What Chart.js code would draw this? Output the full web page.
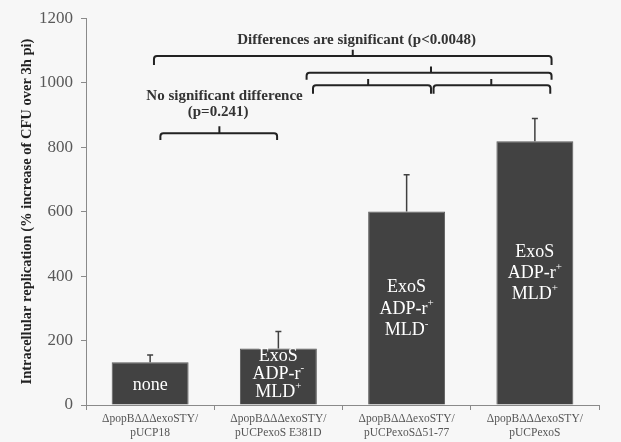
<!DOCTYPE html>
<html>
<head>
<meta charset="utf-8">
<script src="https://cdn.jsdelivr.net/npm/chart.js"></script>
<style>
  html, body { margin: 0; padding: 0; background: #f7f7f7; }
  #wrap { width: 621px; height: 442px; }
</style>
</head>
<body>
<div id="wrap"><canvas id="replChart" width="621" height="442"></canvas></div>
<script>
// DATA
const strains = [
    ["\u0394popB\u0394\u0394\u0394exoSTY/", "pUCP18"],
    ["\u0394popB\u0394\u0394\u0394exoSTY/", "pUCPexoS E381D"],
    ["\u0394popB\u0394\u0394\u0394exoSTY/", "pUCPexoS\u039451-77"],
    ["\u0394popB\u0394\u0394\u0394exoSTY/", "pUCPexoS"]
];
const replication = [133, 175, 600, 818];
const errorTop = [155, 228, 714, 889];
const yTicks = [0, 200, 400, 600, 800, 1000, 1200];
// bar captions: [text, superscript]
const barText = [
    [["none", ""]],
    [["ExoS", ""], ["ADP-r", "-"], ["MLD", "+"]],
    [["ExoS", ""], ["ADP-r", "+"], ["MLD", "-"]],
    [["ExoS", ""], ["ADP-r", "+"], ["MLD", "+"]]
];

const serif = "'Liberation Serif', 'Times New Roman', serif";

const overlay = {
    id: "overlay",
    afterDatasetsDraw(chart) {
        const ctx = chart.ctx;
        const xs = chart.scales.x, ys = chart.scales.y;
        const step = xs.getPixelForValue(1) - xs.getPixelForValue(0);
        const px = c => xs.getPixelForValue(0) + c * step;
        const py = v => ys.getPixelForValue(v);
        const meta = chart.getDatasetMeta(0);

        ctx.save();
        // error bars
        ctx.strokeStyle = "#404040";
        ctx.lineWidth = 1.5;
        meta.data.forEach((bar, i) => {
            const x = bar.x;
            ctx.beginPath();
            ctx.moveTo(x, py(replication[i]));
            ctx.lineTo(x, py(errorTop[i]));
            ctx.moveTo(x - 3, py(errorTop[i]));
            ctx.lineTo(x + 3, py(errorTop[i]));
            ctx.stroke();
        });

        // captions inside bars
        const capY = [[385], [356, 374, 392], [287, 309, 330], [252, 273, 294]];
        ctx.fillStyle = "#ffffff";
        ctx.textBaseline = "middle";
        meta.data.forEach((bar, i) => {
            barText[i].forEach((ln, j) => {
                ctx.font = "18px " + serif;
                const w = ctx.measureText(ln[0]).width;
                ctx.font = "11px " + serif;
                const sw = ln[1] ? ctx.measureText(ln[1]).width : 0;
                const x0 = bar.x - (w + sw) / 2;
                ctx.font = "18px " + serif;
                ctx.textAlign = "left";
                ctx.fillText(ln[0], x0, capY[i][j]);
                if (ln[1]) {
                    ctx.font = "11px " + serif;
                    ctx.fillText(ln[1], x0 + w, capY[i][j] - 6);
                }
            });
        });

        // brackets
        function bracket(c1, c2, y, drop, cm, up) {
            const x1 = px(c1), x2 = px(c2), yy = py(y), yd = py(drop), xm = px(cm), yu = py(up);
            const r = 3;
            ctx.beginPath();
            ctx.moveTo(x1, yd);
            ctx.arcTo(x1, yy, x1 + r, yy, r);
            ctx.arcTo(x2, yy, x2, yd, r);
            ctx.lineTo(x2, yd);
            ctx.moveTo(xm, yy);
            ctx.lineTo(xm, yu);
            ctx.stroke();
        }
        ctx.strokeStyle = "#222222";
        ctx.lineWidth = 2;
        bracket(0.03, 3.13, 1083, 1055, 1.58, 1102);
        bracket(1.22, 3.13, 1031, 1009, 2.19, 1050);
        bracket(1.27, 2.19, 992, 966, 1.70, 1011);
        bracket(2.21, 3.12, 992, 966, 2.66, 1011);
        bracket(0.08, 0.99, 843, 822, 0.54, 865);

        ctx.fillStyle = "#333333";
        ctx.textAlign = "center";
        ctx.font = "bold 15px " + serif;
        ctx.fillText("Differences are significant (p<0.0048)", px(1.61), py(1132));
        ctx.fillText("No significant difference", px(0.58), py(957));
        ctx.fillText("(p=0.241)", px(0.53), py(908));
        ctx.restore();
    }
};

const ctx = document.getElementById("replChart").getContext("2d");
new Chart(ctx, {
    type: "bar",
    data: {
        labels: strains,
        datasets: [{
            data: replication,
            backgroundColor: "#424242",
            borderColor: "#5a5a5a",
            borderWidth: 1,
            categoryPercentage: 1,
            barPercentage: 0.6
        }]
    },
    options: {
        responsive: false,
        animation: false,
        layout: { padding: { top: 15, right: 22, left: 0, bottom: 0 } },
        plugins: {
            legend: { display: false },
            tooltip: { enabled: false }
        },
        scales: {
            x: {
                offset: true,
                grid: { display: true, offset: true, drawOnChartArea: false, drawTicks: true, tickLength: 5, color: "#8a8a8a" },
                border: { color: "#8a8a8a" },
                ticks: { color: "#555555", font: { family: serif, size: 11.5 }, maxRotation: 0, padding: 2 },
                afterFit: s => { s.height = 37; }
            },
            y: {
                min: 0,
                max: 1200,
                afterBuildTicks: s => { s.ticks = yTicks.map(v => ({ value: v })); },
                grid: { display: true, drawOnChartArea: false, drawTicks: true, tickLength: 5, color: "#8a8a8a" },
                border: { color: "#8a8a8a" },
                ticks: {
                    color: "#595959",
                    font: { family: serif, size: 17 },
                    padding: 8,
                    callback: v => String(v)
                },
                title: {
                    display: true,
                    text: "Intracellular replication (% increase of CFU over 3h pi)",
                    color: "#222222",
                    font: { family: serif, size: 14.5, weight: "bold" },
                    padding: { top: 19, bottom: 4 }
                },
                afterFit: s => { s.width = 86; }
            }
        }
    },
    plugins: [overlay]
});
</script>
</body>
</html>
